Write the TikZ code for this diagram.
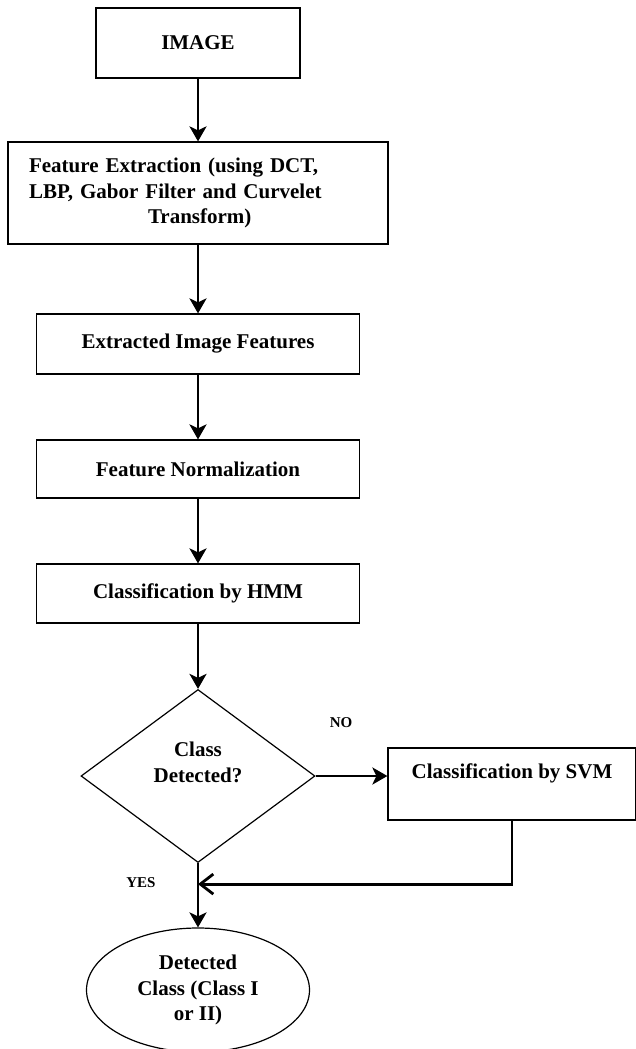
\documentclass[tikz,border=0pt]{standalone}
\usepackage{fontspec}
\setmainfont{Liberation Serif}
\usetikzlibrary{arrows.meta, positioning, shapes.geometric}
\tikzset{
>={Stealth[length=15pt, width=17pt, inset=4pt]}, % filled arrow heads
node distance=150pt, % centre to centre distance of the nodes
every node/.style={font=\bfseries\fontsize{21}{25.5}\selectfont},
box/.style={draw, line width=1.2pt, minimum width=323pt, inner sep=0pt}, % process steps
decision/.style={diamond, draw, line width=1.2pt, minimum width=234pt, minimum height=173pt, aspect=1.35, inner sep=0pt, align=center},
terminal/.style={ellipse, draw, line width=1.2pt, minimum width=223pt, minimum height=124pt, inner sep=0pt, align=center},
flow/.style={->, line width=2.8pt},
lbl/.style={font=\bfseries\fontsize{15}{18}\selectfont},
}

\begin{document}
\begin{tikzpicture}[x=1pt, y=1pt]
      \useasboundingbox (0,0) rectangle (635,-1049);
      \node[box, minimum width=204pt, minimum height=70pt] (img) at (198,-43) {IMAGE};
      \node[box, below of=img, minimum width=380pt, minimum height=102pt, text width=338pt, inner xsep=21pt, align=left] (fe) {Feature Extraction (using DCT,\\ LBP, Gabor Filter and Curvelet\\ \hspace*{119pt}Transform)};
      \node[box, below of=fe, yshift=-1pt, minimum height=60pt] (eif) {Extracted Image Features};
      \node[box, below of=eif, yshift=25pt, minimum height=58pt] (fn) {Feature Normalization};
      \node[box, below of=fn, yshift=25.5pt, minimum height=59pt] (hmm) {Classification by HMM};
      \node[decision, below of=hmm, yshift=-32.5pt] (dec) {Class\\ Detected?\\[2pt]\mbox{}};
      \node[box, right of=dec, xshift=164pt, yshift=-8pt, minimum width=248pt, text height=30pt, text depth=42pt] (svm) {Classification by SVM};
      \node[terminal, below of=dec, yshift=-64pt] (cls) {Detected\\ Class (Class I\\ or II)};
      \node[lbl, right of=dec, xshift=-7pt, yshift=53pt] (no) {NO};
      \node[lbl, left of=dec, xshift=93pt, yshift=-107pt] (yes) {YES};
      \coordinate (join) at ([yshift=-21pt]dec.south);

      \path[flow] (img) edge (fe)
      (fe) edge (eif)
      (eif) edge (fn)
      (fn) edge (hmm)
      (hmm) edge (dec)
      (dec.east) edge (dec.east -| svm.west)
      (dec) edge (cls);
      \draw[line width=2.8pt, -{Straight Barb[length=13pt, width=20pt]}] (svm.south) |- (join);
    \end{tikzpicture}
\end{document}
